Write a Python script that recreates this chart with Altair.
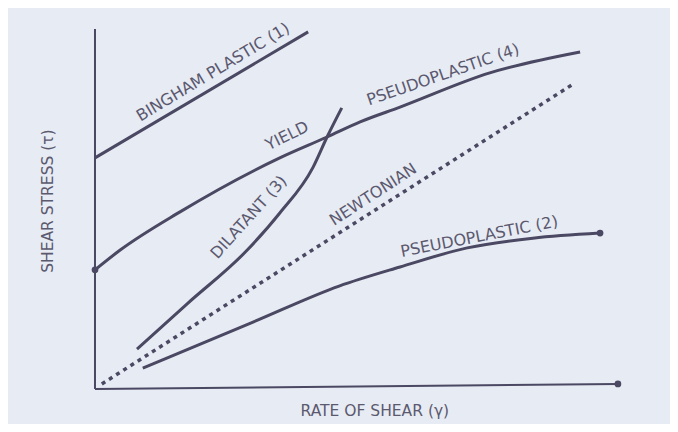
import altair as alt
import pandas as pd

# Flow curves (shear rate gamma, shear stress tau) in arbitrary units
bingham_x = [0.0, 40.6]
bingham_y = [64.2, 99.2]

pseudo4_x = [0.0, 4.8, 16.2, 35.2, 44.2, 50.5, 58.1, 75.2, 92.4]
pseudo4_y = [33.1, 38.6, 49.2, 64.2, 70.0, 74.2, 78.3, 87.8, 93.6]

dilatant_x = [8.0, 17.5, 29.0, 35.2, 41.5, 44.2, 47.0]
dilatant_y = [11.1, 23.6, 38.6, 48.9, 61.5, 70.0, 78.1]

newton_x = [1.3, 91.4]
newton_y = [1.4, 85.0]

pseudo2_x = [9.1, 30.1, 46.5, 58.1, 70.9, 83.4, 96.2]
pseudo2_y = [5.8, 18.6, 28.6, 33.9, 39.2, 41.9, 43.3]

# axes drawn as lines
yaxis_x = [0.0, 0.0]
yaxis_y = [0.0, 100.0]
xaxis_x = [0.0, 99.6]
xaxis_y = [0.0, 1.4]

# end dots
dot_x = [0.0, 96.2, 99.6]
dot_y = [33.1, 43.3, 1.4]

# labels
label_text = ["BINGHAM PLASTIC (1)", "YIELD", "PSEUDOPLASTIC (4)", "DILATANT (3)",
              "NEWTONIAN", "PSEUDOPLASTIC (2)"]
label_x = [22.5, 36.6, 66.3, 29.3, 53.0, 73.2]
label_y = [88.0, 70.3, 87.3, 47.7, 54.0, 42.3]
label_angle = [329, 334, 341, 312, 327, 349]

title_text = ["SHEAR STRESS (τ)", "RATE OF SHEAR (γ)"]
title_x = [-8.9, 53.3]
title_y = [52.2, -6.1]
title_angle = [270, 0]

BG = "#e7ebf3"
INK = "#4a4862"
TXT = "#5b596f"

def series(name, xs, ys):
    return pd.DataFrame({"series": name, "x": xs, "y": ys, "o": range(len(xs))})

curves = pd.concat([
    series("bingham", bingham_x, bingham_y),
    series("pseudo4", pseudo4_x, pseudo4_y),
    series("dilatant", dilatant_x, dilatant_y),
    series("pseudo2", pseudo2_x, pseudo2_y),
])
axes_df = pd.concat([
    series("yaxis", yaxis_x, yaxis_y),
    series("xaxis", xaxis_x, xaxis_y),
])
newton = series("newton", newton_x, newton_y)
dots = pd.DataFrame({"x": dot_x, "y": dot_y})
labels = pd.DataFrame({"t": label_text, "x": label_x, "y": label_y, "a": label_angle})
titles = pd.DataFrame({"t": title_text, "x": title_x, "y": title_y, "a": title_angle})

xs = alt.Scale(domain=[-16.57, 109.52], nice=False, zero=False)
ys = alt.Scale(domain=[-9.72, 105.83], nice=False, zero=False)
X = alt.X("x:Q", scale=xs, axis=None)
Y = alt.Y("y:Q", scale=ys, axis=None)

axes_layer = alt.Chart(axes_df).mark_line(color=INK, strokeWidth=2).encode(
    x=X, y=Y, detail="series:N", order="o:Q")
curve_layer = alt.Chart(curves).mark_line(color=INK, strokeWidth=3, interpolate="monotone").encode(
    x=X, y=Y, detail="series:N", order="o:Q")
newton_layer = alt.Chart(newton).mark_line(color=INK, strokeWidth=3.5, strokeDash=[4, 4.5]).encode(
    x=X, y=Y, order="o:Q")
dot_layer = alt.Chart(dots).mark_circle(color=INK, size=45, opacity=1).encode(x=X, y=Y)
label_layer = alt.Chart(labels).mark_text(
    font="DejaVu Sans", fontSize=16, color=TXT, align="center", baseline="middle"
).encode(x=X, y=Y, text="t:N", angle=alt.Angle("a:Q", scale=None))
title_layer = alt.Chart(titles).mark_text(
    font="DejaVu Sans", fontSize=15.5, color=TXT, align="center", baseline="middle"
).encode(x=X, y=Y, text="t:N", angle=alt.Angle("a:Q", scale=None))

chart = alt.layer(axes_layer, curve_layer, newton_layer, dot_layer, label_layer, title_layer).properties(
    width=662, height=416,
    autosize=alt.AutoSizeParams(type="none"),
    padding=0,
    background=BG,
).configure_view(stroke=None, fill=BG)

chart.save("out.html", embed_options={"renderer": "svg", "actions": False})
